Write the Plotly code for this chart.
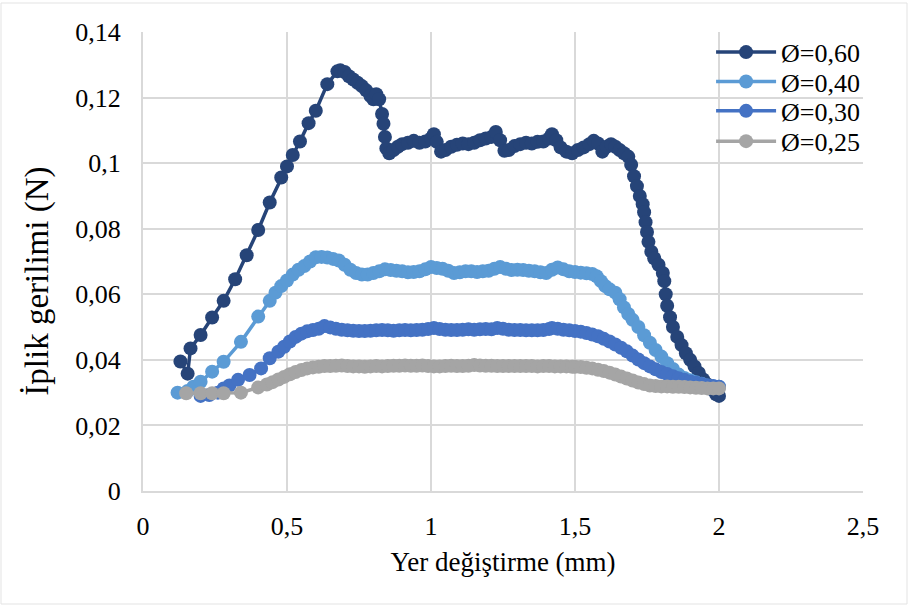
import plotly.graph_objects as go

# Displacement (mm) and yarn tension (N) for each needle diameter
x_060 = [0.13, 0.155, 0.165, 0.20, 0.24, 0.28, 0.32, 0.36, 0.40, 0.44, 0.48, 0.50, 0.52, 0.545,
         0.575, 0.60, 0.64, 0.675, 0.685, 0.70, 0.715, 0.73, 0.745, 0.76, 0.775, 0.79, 0.80,
         0.81, 0.82, 0.83, 0.835, 0.84, 0.845, 0.855, 0.87, 0.885, 0.90, 0.92, 0.94, 0.96,
         0.98, 1.00, 1.01, 1.02, 1.035, 1.05, 1.07, 1.09, 1.11, 1.13, 1.15, 1.17, 1.19, 1.21,
         1.225, 1.24, 1.255, 1.27, 1.29, 1.31, 1.33, 1.35, 1.37, 1.39, 1.41, 1.42, 1.435, 1.45,
         1.47, 1.49, 1.51, 1.53, 1.55, 1.565, 1.58, 1.595, 1.61, 1.625, 1.64, 1.655, 1.67,
         1.685, 1.695, 1.705, 1.715, 1.725, 1.735, 1.74, 1.745, 1.75, 1.755, 1.765, 1.775,
         1.79, 1.805, 1.81, 1.815, 1.82, 1.83, 1.84, 1.855, 1.87, 1.885, 1.90, 1.915, 1.93,
         1.945, 1.96, 1.975, 1.99, 2.00]
y_060 = [0.0395, 0.0358, 0.0435, 0.0476, 0.0529, 0.0580, 0.0646, 0.0719, 0.0796, 0.0880, 0.0956,
         0.0990, 0.1025, 0.1066, 0.1122, 0.1160, 0.1241, 0.1280, 0.1283, 0.1278, 0.1265, 0.1255,
         0.1245, 0.1235, 0.1222, 0.1205, 0.1195, 0.1210, 0.1195, 0.1150, 0.1120, 0.1080, 0.1045,
         0.1030, 0.1040, 0.1050, 0.1058, 0.1062, 0.1068, 0.1062, 0.1066, 0.1075, 0.1088, 0.1065,
         0.1035, 0.1040, 0.1050, 0.1056, 0.1060, 0.1058, 0.1062, 0.1070, 0.1075, 0.1080, 0.1095,
         0.1070, 0.1038, 0.1040, 0.1052, 0.1058, 0.1062, 0.1060, 0.1065, 0.1066, 0.1075, 0.1088,
         0.1070, 0.1048, 0.1035, 0.1030, 0.1040, 0.1048, 0.1058, 0.1068, 0.1060, 0.1035, 0.1050,
         0.1058, 0.1050, 0.1040, 0.1030, 0.1020, 0.0995, 0.0960, 0.0930, 0.0900, 0.0875, 0.0850,
         0.0820, 0.0790, 0.0760, 0.0730, 0.0710, 0.0690, 0.0665, 0.0640, 0.0600, 0.0565, 0.0530,
         0.0500, 0.0470, 0.0445, 0.0420, 0.0400, 0.0380, 0.0360, 0.0340, 0.0325, 0.0310, 0.0295,
         0.0290]

x_040 = [0.12, 0.155, 0.175, 0.20, 0.24, 0.28, 0.34, 0.40, 0.44, 0.46, 0.48, 0.50, 0.52, 0.54,
         0.56, 0.58, 0.60, 0.62, 0.64, 0.66, 0.68, 0.70, 0.72, 0.74, 0.76, 0.78, 0.80, 0.82,
         0.84, 0.86, 0.88, 0.90, 0.92, 0.94, 0.96, 0.98, 1.00, 1.02, 1.04, 1.06, 1.08, 1.10,
         1.12, 1.14, 1.16, 1.18, 1.20, 1.22, 1.24, 1.26, 1.28, 1.30, 1.32, 1.34, 1.36, 1.38,
         1.40, 1.42, 1.44, 1.46, 1.48, 1.50, 1.52, 1.54, 1.56, 1.575, 1.59, 1.605, 1.62, 1.64,
         1.655, 1.67, 1.685, 1.70, 1.72, 1.74, 1.76, 1.78, 1.80, 1.82, 1.84, 1.86, 1.88, 1.90,
         1.92, 1.94, 1.96, 1.98, 2.00]
y_040 = [0.0300, 0.0305, 0.0318, 0.0333, 0.0364, 0.0394, 0.0455, 0.0532, 0.0580, 0.0605, 0.0625,
         0.0642, 0.0660, 0.0675, 0.0686, 0.0700, 0.0713, 0.0714, 0.0712, 0.0708, 0.0703, 0.0690,
         0.0675, 0.0665, 0.0660, 0.0660, 0.0665, 0.0670, 0.0676, 0.0674, 0.0672, 0.0670, 0.0667,
         0.0668, 0.0670, 0.0676, 0.0683, 0.0680, 0.0678, 0.0672, 0.0665, 0.0667, 0.0670, 0.0670,
         0.0668, 0.0670, 0.0672, 0.0678, 0.0683, 0.0678, 0.0674, 0.0675, 0.0674, 0.0672, 0.0670,
         0.0667, 0.0665, 0.0675, 0.0682, 0.0676, 0.0670, 0.0668, 0.0666, 0.0664, 0.0662, 0.0655,
         0.0640, 0.0625, 0.0615, 0.0605, 0.0585, 0.0560, 0.0540, 0.0522, 0.0500, 0.0475, 0.0452,
         0.0430, 0.0410, 0.0390, 0.0372, 0.0355, 0.0345, 0.0338, 0.0332, 0.0327, 0.0322, 0.0319,
         0.0318]

x_030 = [0.20, 0.23, 0.26, 0.28, 0.30, 0.33, 0.37, 0.41, 0.44, 0.47, 0.49, 0.51, 0.53, 0.55,
         0.57, 0.59, 0.61, 0.63, 0.65, 0.67, 0.69, 0.71, 0.73, 0.75, 0.77, 0.79, 0.81, 0.83,
         0.85, 0.87, 0.89, 0.91, 0.93, 0.95, 0.97, 0.99, 1.01, 1.03, 1.05, 1.07, 1.09, 1.11,
         1.13, 1.15, 1.17, 1.19, 1.21, 1.23, 1.25, 1.27, 1.29, 1.31, 1.33, 1.35, 1.37, 1.39,
         1.41, 1.42, 1.44, 1.46, 1.48, 1.50, 1.52, 1.54, 1.56, 1.58, 1.60, 1.62, 1.64, 1.66,
         1.68, 1.70, 1.72, 1.74, 1.76, 1.78, 1.80, 1.82, 1.84, 1.86, 1.88, 1.90, 1.92, 1.94,
         1.96, 1.98, 2.00]
y_030 = [0.0290, 0.0293, 0.0300, 0.0313, 0.0322, 0.0339, 0.0354, 0.0374, 0.0405, 0.0425, 0.0440,
         0.0456, 0.0470, 0.0480, 0.0487, 0.0491, 0.0495, 0.0503, 0.0499, 0.0495, 0.0492, 0.0490,
         0.0489, 0.0488, 0.0488, 0.0489, 0.0490, 0.0491, 0.0490, 0.0489, 0.0490, 0.0491, 0.0490,
         0.0491, 0.0492, 0.0494, 0.0497, 0.0494, 0.0492, 0.0491, 0.0491, 0.0492, 0.0493, 0.0492,
         0.0493, 0.0494, 0.0493, 0.0497, 0.0495, 0.0492, 0.0491, 0.0491, 0.0490, 0.0490, 0.0490,
         0.0491, 0.0494, 0.0497, 0.0495, 0.0492, 0.0490, 0.0488, 0.0486, 0.0482, 0.0477, 0.0472,
         0.0464, 0.0456, 0.0447, 0.0437, 0.0426, 0.0413, 0.0401, 0.0390, 0.0380, 0.0371, 0.0363,
         0.0357, 0.0350, 0.0344, 0.0339, 0.0334, 0.0330, 0.0326, 0.0322, 0.0320, 0.0318]

x_025 = [0.15, 0.20, 0.24, 0.28, 0.34, 0.40, 0.43, 0.45, 0.47, 0.49, 0.51, 0.53, 0.55, 0.57,
         0.59, 0.61, 0.63, 0.65, 0.67, 0.69, 0.71, 0.73, 0.75, 0.77, 0.79, 0.81, 0.83, 0.85,
         0.87, 0.89, 0.91, 0.93, 0.95, 0.97, 0.99, 1.01, 1.03, 1.05, 1.07, 1.09, 1.11, 1.13,
         1.15, 1.17, 1.19, 1.21, 1.23, 1.25, 1.27, 1.29, 1.31, 1.33, 1.35, 1.37, 1.39, 1.41,
         1.43, 1.45, 1.47, 1.49, 1.50, 1.52, 1.54, 1.56, 1.58, 1.60, 1.62, 1.64, 1.66, 1.68,
         1.70, 1.72, 1.74, 1.76, 1.78, 1.80, 1.82, 1.84, 1.86, 1.88, 1.90, 1.92, 1.94, 1.96,
         1.98, 2.00]
y_025 = [0.0298, 0.0298, 0.0298, 0.0298, 0.0300, 0.0316, 0.0325, 0.0332, 0.0340, 0.0348, 0.0356,
         0.0363, 0.0369, 0.0374, 0.0377, 0.0379, 0.0381, 0.0381, 0.0382, 0.0383, 0.0381, 0.0380,
         0.0380, 0.0379, 0.0380, 0.0381, 0.0380, 0.0381, 0.0382, 0.0382, 0.0383, 0.0382, 0.0382,
         0.0383, 0.0381, 0.0380, 0.0380, 0.0381, 0.0382, 0.0381, 0.0381, 0.0382, 0.0384, 0.0383,
         0.0382, 0.0382, 0.0381, 0.0381, 0.0381, 0.0381, 0.0381, 0.0381, 0.0381, 0.0380, 0.0381,
         0.0381, 0.0380, 0.0380, 0.0380, 0.0379, 0.0379, 0.0378, 0.0376, 0.0374, 0.0370, 0.0366,
         0.0361, 0.0355, 0.0349, 0.0343, 0.0337, 0.0331, 0.0326, 0.0322, 0.0320, 0.0319, 0.0319,
         0.0318, 0.0318, 0.0317, 0.0316, 0.0315, 0.0314, 0.0313, 0.0313, 0.0313]

series_names = ["Ø=0,60", "Ø=0,40", "Ø=0,30", "Ø=0,25"]
series_colors = ["#264478", "#5B9BD5", "#4472C4", "#A5A5A5"]

x_tickvals = [0, 0.5, 1, 1.5, 2, 2.5]
x_ticktext = ["0", "0,5", "1", "1,5", "2", "2,5"]
y_tickvals = [0, 0.02, 0.04, 0.06, 0.08, 0.1, 0.12, 0.14]
y_ticktext = ["0", "0,02", "0,04", "0,06", "0,08", "0,1", "0,12", "0,14"]

FONT = "Liberation Serif, Times New Roman, serif"
GRID = "#D9D9D9"

# one legend box per series so the entries can sit closer together
legend_ids = ["legend", "legend2", "legend3", "legend4"]
legend_rows = [0.956, 0.892, 0.828, 0.762]

fig = go.Figure()
for xs, ys, name, color, lg in zip([x_060, x_040, x_030, x_025],
                                   [y_060, y_040, y_030, y_025],
                                   series_names, series_colors, legend_ids):
    fig.add_trace(go.Scatter(
        x=xs, y=ys, name=name, mode="lines+markers", legend=lg,
        line=dict(color=color, width=3.5),
        marker=dict(color=color, size=14, symbol="circle"),
    ))

legend_style = dict(
    x=0.789, xanchor="left", yanchor="middle",
    bgcolor="rgba(0,0,0,0)", borderwidth=0,
    font=dict(family=FONT, size=26, color="#000000"),
    itemwidth=60,
)
legend_layout = {lg: dict(legend_style, y=row) for lg, row in zip(legend_ids, legend_rows)}

fig.update_layout(
    width=909, height=607,
    margin=dict(l=143, r=46, t=32, b=116),
    paper_bgcolor="white", plot_bgcolor="white",
    font=dict(family=FONT, size=26, color="#000000"),
    showlegend=True,
    **legend_layout,
    xaxis=dict(
        range=[0, 2.5], tickvals=x_tickvals, ticktext=x_ticktext,
        showgrid=True, gridcolor=GRID, gridwidth=2,
        showline=True, linecolor=GRID, linewidth=2, mirror=False,
        zeroline=False, ticks="", ticklabelstandoff=11,
        title=dict(text="Yer değiştirme (mm)", standoff=12,
                   font=dict(family=FONT, size=27, color="#000000")),
    ),
    yaxis=dict(
        range=[0, 0.14], tickvals=y_tickvals, ticktext=y_ticktext,
        showgrid=True, gridcolor=GRID, gridwidth=2,
        showline=True, linecolor=GRID, linewidth=2,
        zeroline=False, ticks="", ticklabelstandoff=15,
    ),
)

# vertical axis title
fig.add_annotation(
    text="İplik gerilimi (N)", textangle=-90,
    xref="paper", yref="paper", x=-0.146, y=0.458,
    xanchor="center", yanchor="middle", showarrow=False,
    font=dict(family=FONT, size=33, color="#000000"),
)

# thin frame around the chart area
fig.add_shape(
    type="rect", xref="paper", yref="paper",
    x0=(1 - 143) / 720, x1=(907 - 143) / 720,
    y0=(491 - 604) / 459, y1=(491 - 3) / 459,
    line=dict(color="#E3E3E3", width=1), fillcolor="rgba(0,0,0,0)", layer="below",
)

fig.write_html("out.html")
